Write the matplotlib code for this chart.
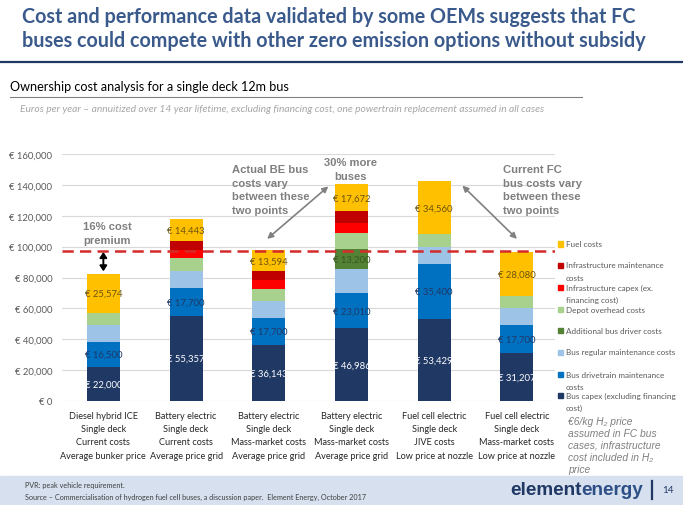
import matplotlib
matplotlib.use("Agg")
import matplotlib.pyplot as plt
from matplotlib.patches import Rectangle
from matplotlib.lines import Line2D
import numpy as np

W, H = 683, 506

categories = [
    "Diesel hybrid ICE\nSingle deck\nCurrent costs\nAverage bunker price",
    "Battery electric\nSingle deck\nCurrent costs\nAverage price grid",
    "Battery electric\nSingle deck\nMass-market costs\nAverage price grid",
    "Battery electric\nSingle deck\nMass-market costs\nAverage price grid",
    "Fuel cell electric\nSingle deck\nJIVE costs\nLow price at nozzle",
    "Fuel cell electric\nSingle deck\nMass-market costs\nLow price at nozzle",
]
bus_capex = [22000, 55357, 36143, 46986, 53429, 31207]
drivetrain_maint = [16500, 17700, 17700, 23010, 35400, 17700]
regular_maint = [11000, 11400, 11200, 15300, 10800, 11400]
driver_costs = [0, 0, 0, 13200, 0, 0]
depot_costs = [7300, 8100, 7700, 10100, 8300, 8000]
infra_capex = [0, 5400, 5800, 6500, 0, 0]
infra_maint = [0, 5400, 5400, 7700, 0, 0]
fuel_costs = [25574, 14443, 13594, 17672, 34560, 28080]
premium_level = 97000
yticks = [0, 20000, 40000, 60000, 80000, 100000, 120000, 140000, 160000]

series = [
    ("Bus capex (excluding financing\ncost)", bus_capex, "#1F3864", "white", True),
    ("Bus drivetrain maintenance\ncosts", drivetrain_maint, "#0070C0", "#1F3864", True),
    ("Bus regular maintenance costs", regular_maint, "#9DC3E6", None, False),
    ("Additional bus driver costs", driver_costs, "#548235", "#375623", True),
    ("Depot overhead costs", depot_costs, "#A9D18E", None, False),
    ("Infrastructure capex (ex.\nfinancing cost)", infra_capex, "#FF0000", None, False),
    ("Infrastructure maintenance\ncosts", infra_maint, "#C00000", None, False),
    ("Fuel costs", fuel_costs, "#FFC000", "#6B5410", True),
]

FONT = ["Lato", "DejaVu Sans"]
ARIAL = ["Liberation Sans", "DejaVu Sans"]
plt.rcParams["font.family"] = FONT

fig = plt.figure(figsize=(W / 100, H / 100), dpi=100)
renderer = fig.canvas.get_renderer()


def fx(px):
    return px / W


def fy(py):
    return 1 - py / H


def fit_size(s, width, **kw):
    t = fig.text(0, 0, s, fontsize=10, **kw)
    w = t.get_window_extent(renderer=renderer).width
    t.remove()
    return 10 * width / w


def fit_text(s, x, y, width, **kw):
    size = fit_size(s, width, **kw)
    return fig.text(fx(x), fy(y), s, fontsize=size, **kw)


# Title
tsize = fit_size("buses could compete with other zero emission options without subsidy", 626, fontweight="bold")
fig.text(fx(22), fy(17), "Cost and performance data validated by some OEMs suggests that FC",
         fontsize=tsize, color="#3A5A8C", fontweight="bold", va="center", ha="left")
fig.text(fx(22), fy(41), "buses could compete with other zero emission options without subsidy",
         fontsize=tsize, color="#3A5A8C", fontweight="bold", va="center", ha="left")
fig.add_artist(Line2D([0, 1], [fy(62.5), fy(62.5)], color="#1F3864", lw=1.6, transform=fig.transFigure))
fit_text("Ownership cost analysis for a single deck 12m bus", 10, 87, 278,
         color="black", va="center", ha="left")
fig.add_artist(Line2D([fx(10), fx(582)], [fy(98), fy(98)], color="#808080", lw=0.8, transform=fig.transFigure))
fit_text("Euros per year \u2013 annuitized over 14 year lifetime, excluding financing cost, one powertrain replacement assumed in all cases",
         20, 109, 524, color="#A6A6A6", style="italic", va="center", ha="left")

# Axes
ax = fig.add_axes([fx(62), fy(402), (555 - 62) / W, (402 - 155) / H])
x = np.arange(len(categories))
bottom = np.zeros(len(categories))
for name, vals, col, lcol, show in series:
    vals = np.array(vals, dtype=float)
    ax.bar(x, vals, 0.4, bottom=bottom, color=col, zorder=2)
    if show:
        for i, v in enumerate(vals):
            if v > 0:
                ax.text(x[i], bottom[i] + v / 2, "\u20ac {:,}".format(int(v)), ha="center", va="center",
                        fontsize=6.8, color=lcol, zorder=4)
    bottom += vals

ax.set_xlim(-0.5, 5.46)
ax.set_ylim(0, 160000)
ax.set_yticks(yticks)
ax.set_yticklabels(["\u20ac {:,}".format(v) for v in yticks], fontsize=6.8, color="#595959")
ax.set_xticks(x)
ax.set_xticklabels(categories, fontsize=6.6, color="#262626", linespacing=1.62)
ax.tick_params(axis="both", length=0)
ax.tick_params(axis="y", pad=7)
ax.tick_params(axis="x", pad=7)
ax.grid(axis="y", color="#D9D9D9", lw=0.8, zorder=0)
for s in ax.spines.values():
    s.set_visible(False)

ax.axhline(premium_level, color="#D42A2A", lw=1.8, ls=(0, (4.5, 2.5)), zorder=3)

gray = "#7F7F7F"
ax.annotate("", xy=(0.0, 84000), xytext=(0.0, 96500),
            arrowprops=dict(arrowstyle="<|-|>,head_length=0.45,head_width=0.3", color="black", lw=1.4,
                            mutation_scale=7, shrinkA=0, shrinkB=0), zorder=5)
ax.annotate("", xy=(1.98, 105000), xytext=(2.72, 139000),
            arrowprops=dict(arrowstyle="<|-|>,head_length=0.5,head_width=0.25", color="#808080", lw=1.2,
                            mutation_scale=7, shrinkA=0, shrinkB=0), zorder=5)
ax.annotate("", xy=(5.0, 105000), xytext=(4.34, 139500),
            arrowprops=dict(arrowstyle="<|-|>,head_length=0.5,head_width=0.25", color="#808080", lw=1.2,
                            mutation_scale=7, shrinkA=0, shrinkB=0), zorder=5)

asize = fit_size("between these", 78, fontweight="bold", family=ARIAL)


def note_block(lines, x, y0, dy, ha):
    for i, ln in enumerate(lines):
        fig.text(fx(x), fy(y0 + dy * i), ln, ha=ha, va="center", fontsize=asize,
                 fontweight="bold", color=gray, family=ARIAL)


note_block(["16% cost", "premium"], 107, 227, 14, "center")
note_block(["Actual BE bus", "costs vary", "between these", "two points"], 232, 170, 13.7, "left")
note_block(["30% more", "buses"], 351, 163, 14, "center")
note_block(["Current FC", "bus costs vary", "between these", "two points"], 503, 170, 13.7, "left")

# Legend (manual)
leg_y = [396, 375, 353, 331, 310, 288, 266, 245]
lsize = fit_size("Bus regular maintenance costs", 109)
for (name, vals, col, lcol, show), yy in zip(series, leg_y):
    fig.add_artist(Rectangle((fx(558), fy(yy + 2.5)), 5 / W, 5 / H, color=col, transform=fig.transFigure))
    for j, part in enumerate(name.split("\n")):
        fig.text(fx(566), fy(yy + 12.5 * j), part, ha="left", va="center", fontsize=lsize, color="#595959")

note_lines = ["\u20ac6/kg H\u2082 price", "assumed in FC bus", "cases, infrastructure", "cost included in H\u2082", "price"]
nsize = 7.4
for i, ln in enumerate(note_lines):
    fig.text(fx(568), fy(422 + 11.9 * i), ln, ha="left", va="center", fontsize=nsize, style="italic",
             color="#808080", family=ARIAL)

# Footer
fig.add_artist(Rectangle((0, 0), 1, (506 - 477) / H, color="#D6E0EE", transform=fig.transFigure, zorder=0))
fig.text(fx(25), fy(486), "PVR: peak vehicle requirement.", fontsize=5.2, color="#404040", va="center")
fig.text(fx(25), fy(497), "Source \u2013 Commercialisation of hydrogen fuel cell buses, a discussion paper.  Element Energy, October 2017",
         fontsize=5.2, color="#404040", va="center")
lg = fit_size("elementenergy", 134, fontweight="heavy", family=ARIAL)
te = fig.text(fx(510), fy(491), "element", fontsize=lg, fontweight="heavy", color="#1F3864", va="center",
              ha="left", family=ARIAL)
we = te.get_window_extent(renderer=renderer).width
fig.text(fx(510) + we / W, fy(491), "energy", fontsize=lg, fontweight="bold", color="#2E4F86", va="center",
         ha="left", family=ARIAL)
fig.add_artist(Line2D([fx(652), fx(652)], [fy(482), fy(500)], color="#1F3864", lw=1.6, transform=fig.transFigure))
fig.text(fx(668), fy(491), "14", fontsize=7, color="#1F3864", va="center", ha="center")

fig.savefig("out.png", dpi=100)
